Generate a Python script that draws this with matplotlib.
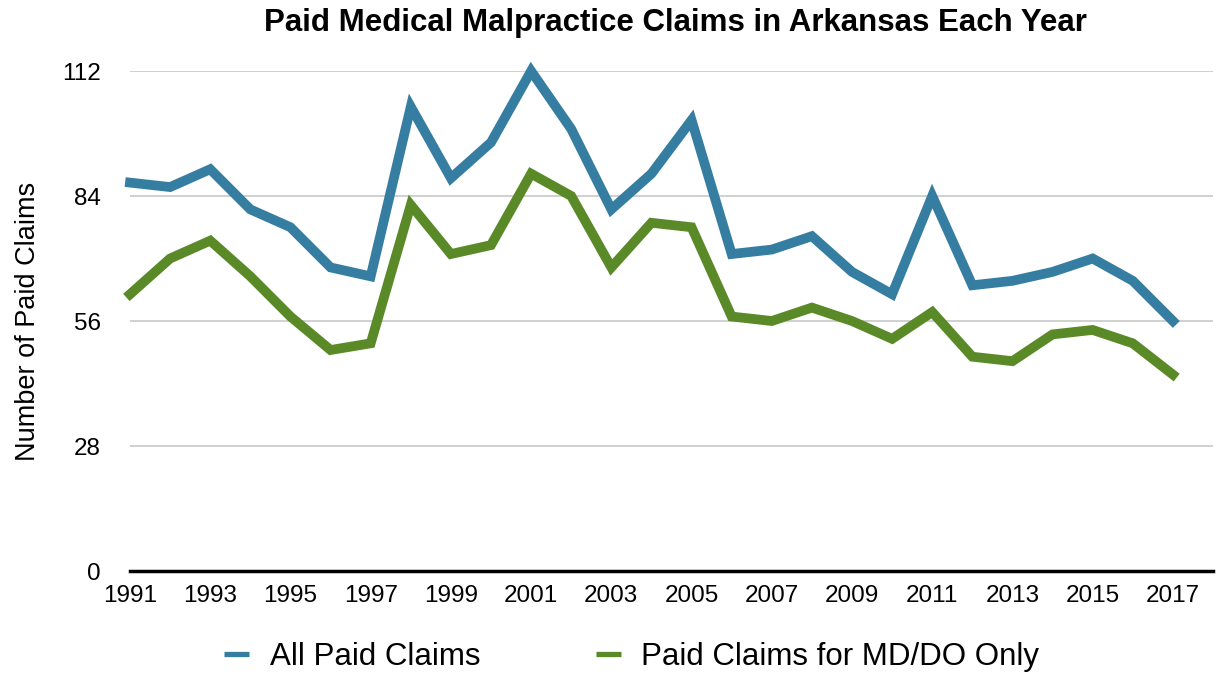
import matplotlib
matplotlib.use("Agg")
import matplotlib.pyplot as plt

years = list(range(1991, 2018))
all_claims = [87, 86, 90, 81, 77, 68, 66, 104, 88, 96, 112, 99, 81, 89, 101, 71, 72, 75, 67, 62,
              84, 64, 65, 67, 70, 65, 56]
md_do_claims = [62, 70, 74, 66, 57, 49.5, 51, 82, 71, 73, 89, 84, 68, 78, 77, 57, 56, 59, 56, 52,
                58, 48, 47, 53, 54, 51, 44]
yticks = [0, 28, 56, 84, 112]
xtick_years = list(range(1991, 2018, 2))

plt.rcParams['font.family'] = ['Liberation Sans', 'DejaVu Sans']

fig = plt.figure(figsize=(12.17, 6.75), dpi=100)
ax = fig.add_axes([130/1217, 1 - 571/675, (1213 - 130)/1217, (571 - 71)/675])

blue = '#367da2'
green = '#5a8a28'
ax.plot(years, all_claims, color=blue, lw=7, solid_joinstyle='miter', clip_on=False,
        label='All Paid Claims', zorder=3)
ax.plot(years, md_do_claims, color=green, lw=7, solid_joinstyle='miter', clip_on=False,
        label='Paid Claims for MD/DO Only', zorder=3)

ax.set_xlim(1991, 2018)
ax.set_ylim(0, 112)
ax.set_yticks(yticks)
ax.set_yticklabels([str(v) for v in yticks])
ax.set_xticks(xtick_years)
ax.set_xticklabels([str(y) for y in xtick_years])
ax.tick_params(axis='both', length=0, labelsize=17.5)
ax.tick_params(axis='y', pad=21)
ax.tick_params(axis='x', pad=10)
ax.yaxis.grid(True, color='#c8c8c8', lw=1.2)
ax.set_axisbelow(True)
for s in ['top', 'right', 'left']:
    ax.spines[s].set_visible(False)
ax.spines['bottom'].set_linewidth(2.5)
ax.spines['bottom'].set_color('black')
ax.spines['bottom'].set_zorder(4)

ax.set_ylabel('Number of Paid Claims', fontsize=19.5, labelpad=15)
fig.text(0.5546, 1 - 23/675, 'Paid Medical Malpractice Claims in Arkansas Each Year',
         ha='center', va='center', fontsize=22.5, fontweight='bold')

leg = fig.legend(loc='center', bbox_to_anchor=(0.519, 1 - 657/675), ncol=2, frameon=False,
                 fontsize=22.5, handlelength=0.8, columnspacing=3.7, handletextpad=0.65)
for h in leg.get_lines():
    h.set_linewidth(3.8)
    h.set_solid_capstyle('butt')

fig.savefig('out.png', dpi=100)
